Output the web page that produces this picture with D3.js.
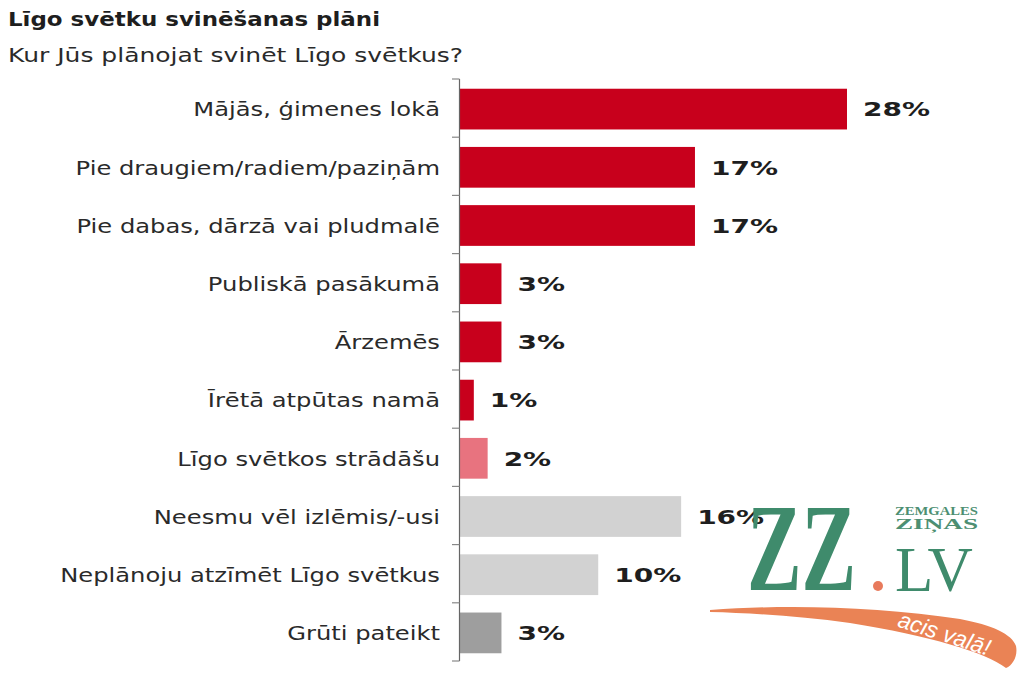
<!DOCTYPE html>
<html><head><meta charset="utf-8">
<script src="https://cdn.jsdelivr.net/npm/d3@7"></script>
<style>body{margin:0;background:#fff}svg{display:block}</style>
</head><body>
<svg id="c" width="1024" height="678"></svg>
<script>
const categories = ["Mājās, ģimenes lokā","Pie draugiem/radiem/paziņām","Pie dabas, dārzā vai pludmalē","Publiskā pasākumā","Ārzemēs","Īrētā atpūtas namā","Līgo svētkos strādāšu","Neesmu vēl izlēmis/-usi","Neplānoju atzīmēt Līgo svētkus","Grūti pateikt"];
const values = [28,17,17,3,3,1,2,16,10,3];
const groups = ["plan","plan","plan","plan","plan","plan","work","undecided","undecided","hard"];
const title = "Līgo svētku svinēšanas plāni";
const subtitle = "Kur Jūs plānojat svinēt Līgo svētkus?";

const svg = d3.select("#c");
const color = d3.scaleOrdinal().domain(["plan","work","undecided","hard"]).range(["#c8001c","#e8737f","#d2d2d2","#9e9e9e"]);
const x = d3.scaleLinear().domain([0,28]).range([460,847]);
const y = d3.scaleBand().domain(categories).range([79,661]).paddingInner(0.3).paddingOuter(0.15);
const FONT = "DejaVu Sans, Verdana, sans-serif";

function stretch(sel, k){ sel.each(function(){ const w=this.getComputedTextLength(); d3.select(this).attr("textLength",w*k).attr("lengthAdjust","spacingAndGlyphs"); }); }

// title
svg.append("text").attr("x",8).attr("y",26).attr("font-family",FONT).attr("font-weight","bold")
  .attr("font-size",20).attr("fill","#1e1e1e").text(title)
  .attr("textLength",372).attr("lengthAdjust","spacingAndGlyphs");
svg.append("text").attr("x",8).attr("y",62).attr("font-family",FONT)
  .attr("font-size",20).attr("fill","#2a2a2a").text(subtitle)
  .attr("textLength",455).attr("lengthAdjust","spacingAndGlyphs");

// bars
svg.append("g").selectAll("rect").data(categories).join("rect")
  .attr("x",x(0)).attr("y",d=>y(d)+1).attr("height",y.bandwidth())
  .attr("width",(d,i)=>x(values[i])-x(0))
  .attr("fill",(d,i)=>color(groups[i]));

// axis
const step = y.step();
const ticks = d3.range(categories.length+1).map(i=>y.range()[0]+i*step);
const ax = svg.append("g");
ax.append("line").attr("x1",459.5).attr("x2",459.5).attr("y1",y.range()[0]).attr("y2",y.range()[1]).attr("stroke","#666").attr("stroke-width",1.2);
ax.selectAll("line.t").data(ticks).join("line").attr("class","t")
  .attr("x1",452).attr("x2",459.5).attr("y1",d=>d).attr("y2",d=>d).attr("stroke","#888").attr("stroke-width",1.2);

// category labels
svg.append("g").selectAll("text").data(categories).join("text")
  .attr("x",440).attr("y",d=>y(d)+1+y.bandwidth()/2).attr("dy","0.36em")
  .attr("text-anchor","end").attr("font-family",FONT).attr("font-size",20).attr("fill","#2a2a2a")
  .text(d=>d).call(stretch,1.21);

// value labels
svg.append("g").selectAll("text").data(categories).join("text")
  .attr("x",(d,i)=>x(values[i])+16).attr("y",d=>y(d)+1+y.bandwidth()/2).attr("dy","0.36em")
  .attr("font-family",FONT).attr("font-weight","bold").attr("font-size",20).attr("fill","#1e1e1e")
  .text((d,i)=>values[i]+"%").call(stretch,1.4);

// logo (decoration)
const logo = svg.append("g");
logo.append("path").attr("d","M710,610 C790,604 880,607 960,619 C992,625 1012,634 1016,646 C1018,656 1013,665 1006,668 C985,652 930,636 850,623 C800,616 750,613 710,612 Z").attr("fill","#ea8355");
logo.append("text").attr("transform","translate(942,641) rotate(18)")
  .attr("font-family","Liberation Sans, Arial, sans-serif").attr("font-style","italic").attr("font-size",23)
  .attr("fill","#fff").attr("text-anchor","middle").text("acis vaļā!");
logo.append("text").attr("transform","translate(747,590) scale(0.66,1)")
  .attr("font-family","Liberation Serif, serif").attr("font-weight","bold").attr("font-size",124).attr("fill","#3f8b6c").text("ZZ");
logo.append("circle").attr("cx",878).attr("cy",586).attr("r",5).attr("fill","#e87a5c");
logo.append("text").attr("transform","translate(895,591) scale(0.98,1)")
  .attr("font-family","Liberation Serif, serif").attr("font-size",64).attr("fill","#3f8b6c").text("LV");
logo.append("text").attr("x",895).attr("y",515)
  .attr("font-family","Liberation Serif, serif").attr("font-weight","bold").attr("font-size",13).attr("fill","#4d8f72")
  .attr("textLength",83).attr("lengthAdjust","spacingAndGlyphs").text("ZEMGALES");
logo.append("text").attr("x",895).attr("y",529)
  .attr("font-family","Liberation Serif, serif").attr("font-weight","bold").attr("font-size",14).attr("fill","#4d8f72")
  .attr("textLength",83).attr("lengthAdjust","spacingAndGlyphs").text("ZIŅAS");
</script>
</body></html>
